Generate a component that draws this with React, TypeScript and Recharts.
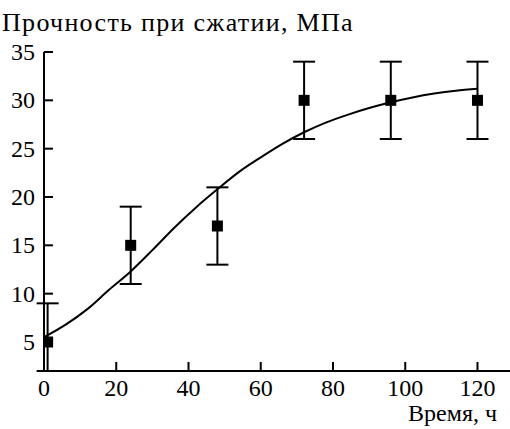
import React from "react";
import {
  ComposedChart,
  Line,
  Scatter,
  ErrorBar,
  XAxis,
  YAxis,
} from "recharts";

// measured points (time, h -> strength, MPa); error as [down, up],
// the first bar is visible only down to the axis
const TIMES = [1, 24, 48, 72, 96, 120];
const STRENGTH = [5, 15, 17, 30, 30, 30];
const ERRORS: [number, number][] = [[3, 4], [4, 4], [4, 4], [4, 4], [4, 4], [4, 4]];

// fitted curve
const FIT_TIMES = [0, 6, 12, 18, 24, 30, 36, 42, 48, 54, 60, 66, 72, 78, 84, 90, 96, 102, 108, 114, 120];
const FIT_VALUES = [5.5, 6.8, 8.4, 10.4, 12.3, 14.5, 16.8, 18.9, 20.8, 22.6, 24.1, 25.5, 26.7, 27.7, 28.5, 29.2, 29.8, 30.3, 30.7, 31.0, 31.2];

const X_TICKS = [0, 20, 40, 60, 80, 100, 120];
const Y_TICKS = [5, 10, 15, 20, 25, 30, 35];

const TEXT = { fontFamily: "'Liberation Serif', serif", fontSize: 24 };

const points = TIMES.map((t, i) => ({ x: t, y: STRENGTH[i], err: ERRORS[i] }));
const fit = FIT_TIMES.map((t, i) => ({ x: t, fit: FIT_VALUES[i] }));

const SquareDot = (props: any) => {
  const { cx, cy } = props;
  if (cx == null || cy == null) return null;
  return <rect x={cx - 5.5} y={cy - 5.5} width={11} height={11} fill="#000" />;
};

// ticks point into the plot, labels sit outside
const XTick = (props: any) => {
  const { x, y, payload } = props;
  return (
    <g>
      <line x1={x} y1={y} x2={x} y2={y - 9} stroke="#000" strokeWidth={2} />
      <text x={x} y={y + 25} textAnchor="middle" fill="#000" style={TEXT}>
        {payload.value}
      </text>
    </g>
  );
};

const YTick = (props: any) => {
  const { x, y, payload } = props;
  return (
    <g>
      <line x1={x} y1={y} x2={x + 9} y2={y} stroke="#000" strokeWidth={2} />
      <text x={x - 9} y={y + 8} textAnchor="end" fill="#000" style={TEXT}>
        {payload.value}
      </text>
    </g>
  );
};

export default function App() {
  return (
    <div style={{ position: "absolute", left: 0, top: 0, width: 510, height: 429, background: "#fff" }}>
      <ComposedChart
        width={510}
        height={429}
        margin={{ top: 52, right: 0, bottom: 0, left: 0 }}
      >
        <XAxis
          type="number"
          dataKey="x"
          domain={[0, 129]}
          ticks={X_TICKS}
          allowDataOverflow
          height={58}
          tickSize={0}
          tickMargin={0}
          tickLine={false}
          tick={<XTick />}
          axisLine={{ stroke: "#000", strokeWidth: 2 }}
        />
        <YAxis
          type="number"
          domain={[2, 35]}
          ticks={Y_TICKS}
          allowDataOverflow
          width={44}
          tickSize={0}
          tickMargin={0}
          tickLine={false}
          tick={<YTick />}
          axisLine={{ stroke: "#000", strokeWidth: 2 }}
        />
        <Line
          data={fit}
          dataKey="fit"
          type="monotone"
          stroke="#000"
          strokeWidth={2}
          dot={false}
          activeDot={false}
          isAnimationActive={false}
        />
        <Scatter
          data={points}
          dataKey="y"
          shape={<SquareDot />}
          isAnimationActive={false}
        >
          <ErrorBar
            dataKey="err"
            direction="y"
            width={11}
            stroke="#000"
            strokeWidth={2}
            isAnimationActive={false}
          />
        </Scatter>
      </ComposedChart>
      <svg
        width={510}
        height={429}
        style={{ position: "absolute", left: 0, top: 0, pointerEvents: "none" }}
      >
        <text x={2} y={31} fill="#000" style={{ ...TEXT, fontSize: 26, letterSpacing: 1.3 }}>
          Прочность при сжатии, МПа
        </text>
        <text x={497} y={421} textAnchor="end" fill="#000" style={TEXT}>
          Время, ч
        </text>
      </svg>
    </div>
  );
}
